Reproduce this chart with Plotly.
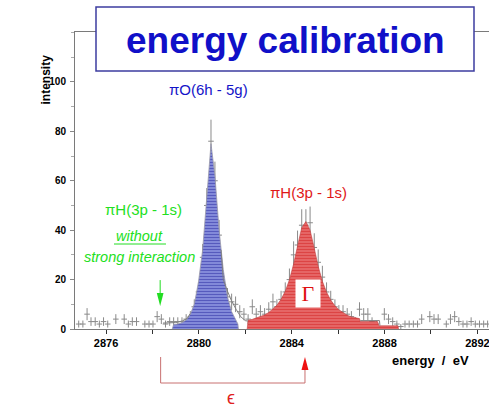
import plotly.graph_objects as go

# ---------------- data ----------------
energy = [2874.82, 2875.00, 2875.18, 2875.35, 2875.53, 2875.71, 2875.89, 2876.07, 2876.24, 2876.42,
          2876.60, 2876.78, 2876.96, 2877.13, 2877.31, 2877.49, 2877.67, 2877.85, 2878.02, 2878.20,
          2878.38, 2878.56, 2878.74, 2878.91, 2879.09, 2879.27, 2879.45, 2879.63, 2879.80, 2879.98,
          2880.16, 2880.34, 2880.52, 2880.69, 2880.87, 2881.05, 2881.23, 2881.41, 2881.58, 2881.76,
          2881.94, 2882.12, 2882.30, 2882.47, 2882.65, 2882.83, 2883.01, 2883.19, 2883.36, 2883.54,
          2883.72, 2883.90, 2884.08, 2884.25, 2884.43, 2884.61, 2884.79, 2884.97, 2885.14, 2885.32,
          2885.50, 2885.68, 2885.86, 2886.03, 2886.21, 2886.39, 2886.57, 2886.75, 2886.92, 2887.10,
          2887.28, 2887.46, 2887.64, 2887.81, 2887.99, 2888.17, 2888.35, 2888.53, 2888.70, 2888.88,
          2889.06, 2889.24, 2889.42, 2889.60, 2889.77, 2889.95, 2890.13, 2890.31, 2890.49, 2890.66,
          2890.84, 2891.02, 2891.20, 2891.38, 2891.55, 2891.73, 2891.91, 2892.09, 2892.27, 2892.44]
counts = [2, 2, 6, 3, 3, 2, 3, 2, None, 4,
          None, 4, 2, 3, 3, None, 2, 2, 2, 5,
          4, 2, 3, 3, 3, 3, 4, 5, 9, 15,
          29, 50, 76, 60, 38, 18, 13, 11, 10, 7,
          6, 4, 9, 6, 7, 6, 8, 11, 9, 12,
          15, 20, 30, 34, 42, 42, 43, 33, 27, 21,
          15, 12, 9, 7, 7, 6, 5, 3, 8, 6,
          6, 3, 2, None, 6, 4, 3, 2, 1, 2,
          2, 2, 2, 4, None, 5, 4, 4, None, 2,
          4, 5, 3, 2, 2, 3, 2, 2, 2, 2]

# fitted line shapes
blue_fit_e = [2878.85, 2878.91, 2879.09, 2879.27, 2879.45, 2879.63, 2879.80, 2879.98, 2880.16, 2880.34,
              2880.52, 2880.69, 2880.87, 2881.05, 2881.23, 2881.41, 2881.58, 2881.68, 2881.70]
blue_fit_v = [0, 1.8, 2.0, 2.6, 3.6, 6.0, 10.0, 19.0, 32.0, 52.0,
              75.0, 62.0, 40.0, 24.0, 13.0, 7.0, 4.0, 2.0, 0]

red_fit_e = [2882.08, 2882.12, 2882.30, 2882.47, 2882.65, 2882.83, 2883.01, 2883.19, 2883.36, 2883.54,
             2883.72, 2883.90, 2884.08, 2884.25, 2884.43, 2884.61, 2884.79, 2884.97, 2885.14, 2885.32,
             2885.50, 2885.68, 2885.86, 2886.03, 2886.21, 2886.39, 2886.57, 2886.75, 2886.92, 2886.95,
             2887.70, 2887.75, 2888.58, 2888.60]
red_fit_v = [0, 3.5, 3.9, 4.4, 5.0, 5.7, 6.7, 8.0, 9.6, 12.0,
             15.3, 19.9, 26.3, 33.6, 41.0, 43.5, 40.0, 32.7, 25.4, 19.3,
             14.9, 11.7, 9.4, 7.8, 6.6, 5.6, 4.9, 4.4, 4.2, 3.0,
             3.0, 1.3, 1.3, 0]

total_fit_e = [2878.45, 2879.00, 2879.30, 2879.50, 2879.62]
total_fit_v = [2.4, 2.6, 3.3, 4.3, 6.2]
tail_fit_e = [2880.95, 2881.05, 2881.20, 2881.40, 2881.60, 2881.80, 2882.00, 2882.10]
tail_fit_v = [32.0, 20.0, 16.0, 11.5, 8.0, 5.0, 3.4, 3.2]
shelf_fit_e = [2886.95, 2887.78, 2887.80]
shelf_fit_v = [3.4, 3.4, 1.4]

x_ticks = [2876, 2880, 2884, 2888, 2892]
y_ticks = [0, 20, 40, 60, 80, 100]

# ---------------- figure ----------------
SANS = "Liberation Sans, Arial, Helvetica"

fig = go.Figure()

fig.add_trace(go.Scatter(
    x=energy, y=counts, mode="markers",
    marker=dict(symbol="line-ew", size=4, line=dict(width=1, color="#8a8a8a"), color="#8a8a8a"),
    error_y=dict(type="sqrt", color="#8a8a8a", thickness=1, width=0),
    showlegend=False, hoverinfo="skip"))

fig.add_trace(go.Scatter(
    x=blue_fit_e, y=blue_fit_v, mode="lines", fill="tozeroy",
    line=dict(color="#9a9aaa", width=0.8),
    fillpattern=dict(shape="-", fgcolor="#1c1c98", bgcolor="#9098e2", size=3, solidity=0.5),
    showlegend=False, hoverinfo="skip"))

fig.add_trace(go.Scatter(
    x=red_fit_e, y=red_fit_v, mode="lines", fill="tozeroy",
    line=dict(color="#c04040", width=0.6),
    fillpattern=dict(shape="-", fgcolor="#d01818", bgcolor="#e87070", size=3, solidity=0.5),
    showlegend=False, hoverinfo="skip"))

for ex, ev in ((total_fit_e, total_fit_v), (tail_fit_e, tail_fit_v), (shelf_fit_e, shelf_fit_v)):
    fig.add_trace(go.Scatter(x=ex, y=ev, mode="lines", line=dict(color="#808080", width=1),
                             showlegend=False, hoverinfo="skip"))

W, H = 489, 408
L, R, T, B = 75, 0, 32, 79
PW, PH = W - L - R, H - T - B


def px(xp):
    return (xp - L) / PW


def py(yp):
    return (H - B - yp) / PH


fig.update_layout(
    width=W, height=H, autosize=False,
    margin=dict(l=L, r=R, t=T, b=B, pad=0),
    paper_bgcolor="white", plot_bgcolor="white",
    xaxis=dict(range=[2874.66, 2892.5], tickvals=x_ticks, ticks="outside", ticklen=4,
               tickcolor="#333", tickwidth=1, ticklabeloverflow="allow",
               minor=dict(dtick=2, tick0=2876, ticks="outside", ticklen=4, tickcolor="#333"),
               showline=True, linecolor="#7a7a7a", linewidth=1, mirror=True,
               showgrid=False, zeroline=False,
               tickfont=dict(family=SANS, size=11, color="black", weight="bold")),
    yaxis=dict(range=[0, 120.2], tickvals=y_ticks, ticks="outside", ticklen=4,
               tickcolor="#888", tickwidth=1,
               minor=dict(dtick=10, ticks="outside", ticklen=3, tickcolor="#aaa"),
               showline=True, linecolor="#7a7a7a", linewidth=1,
               showgrid=False, zeroline=False, ticklabelstandoff=2,
               tickfont=dict(family=SANS, size=10, color="black", weight="bold")),
)

shapes = []
# title box
shapes.append(dict(type="rect", xref="paper", yref="paper", x0=px(96), x1=px(474), y0=py(71), y1=py(7),
                   fillcolor="white", line=dict(color="#3c3ca0", width=1.5), layer="above"))
# underline of "without"
shapes.append(dict(type="line", xref="x", yref="y", x0=2876.34, x1=2878.58, y0=34.4, y1=34.4,
                   line=dict(color="#22dd22", width=1)))
# green arrow
shapes.append(dict(type="line", xref="x", yref="y", x0=2878.33, x1=2878.33, y0=19.8, y1=12.0,
                   line=dict(color="#22dd22", width=1)))
shapes.append(dict(type="path", xref="x", yref="y",
                   path="M 2878.185 14.6 L 2878.475 14.6 L 2878.33 9.3 Z",
                   fillcolor="#22dd22", line=dict(color="#22dd22", width=0)))
# epsilon bracket below the axis
yb0, yb1 = py(357), py(383)
shapes.append(dict(type="line", xref="x", yref="paper", x0=2878.35, x1=2878.35, y0=yb0, y1=yb1,
                   line=dict(color="#c87070", width=1)))
shapes.append(dict(type="line", xref="x", yref="paper", x0=2878.35, x1=2884.57, y0=yb1, y1=yb1,
                   line=dict(color="#c87070", width=1)))
shapes.append(dict(type="line", xref="x", yref="paper", x0=2884.57, x1=2884.57, y0=yb1, y1=py(368),
                   line=dict(color="#c87070", width=1)))
shapes.append(dict(type="path", xref="x", yref="paper",
                   path=f"M 2884.42 {py(370)} L 2884.72 {py(370)} L 2884.57 {py(357)} Z",
                   fillcolor="#ee1111", line=dict(color="#ee1111", width=0)))
fig.update_layout(shapes=shapes)

ann = []
ann.append(dict(text="energy calibration", xref="paper", yref="paper", x=px(285), y=py(40),
                showarrow=False, xanchor="center", yanchor="middle",
                font=dict(family=SANS, size=37, color="#1010c8", weight="bold")))
ann.append(dict(text="intensity", xref="paper", yref="paper", x=px(45.5), y=py(80), textangle=-90,
                showarrow=False, xanchor="center", yanchor="middle",
                font=dict(family=SANS, size=12, color="black", weight="bold")))
ann.append(dict(text="energy\u00a0\u00a0/\u00a0\u00a0eV", xref="paper", yref="paper", x=px(430), y=py(360),
                showarrow=False, xanchor="center", yanchor="middle",
                font=dict(family=SANS, size=13, color="black", weight="bold")))
ann.append(dict(text="πO(6h - 5g)", xref="x", yref="y", x=2880.43, y=96.8, showarrow=False,
                font=dict(family=SANS, size=15, color="#1414c8")))
ann.append(dict(text="πH(3p - 1s)", xref="x", yref="y", x=2877.63, y=48.2, showarrow=False,
                font=dict(family=SANS, size=15, color="#22e022")))
ann.append(dict(text="<i>without</i>", xref="x", yref="y", x=2877.46, y=37.7, showarrow=False,
                font=dict(family=SANS, size=14.5, color="#22e022")))
ann.append(dict(text="<i>strong interaction</i>", xref="x", yref="y", x=2877.42, y=29.1, showarrow=False,
                font=dict(family=SANS, size=14.5, color="#22e022")))
ann.append(dict(text="πH(3p - 1s)", xref="x", yref="y", x=2884.74, y=55.1, showarrow=False,
                font=dict(family=SANS, size=15, color="#e01818")))
ann.append(dict(text="Γ", xref="x", yref="y", x=2884.70, y=14.4, showarrow=False,
                width=24, height=27, bgcolor="white", borderpad=0,
                font=dict(family="Liberation Serif, DejaVu Serif, Times New Roman, serif", size=22,
                          color="#e01010")))
ann.append(dict(text="ϵ", xref="paper", yref="paper", x=px(231), y=py(398 + 12), showarrow=False,
                font=dict(family=SANS, size=18, color="#e02020")))
fig.update_layout(annotations=ann)

fig.write_html("out.html")
